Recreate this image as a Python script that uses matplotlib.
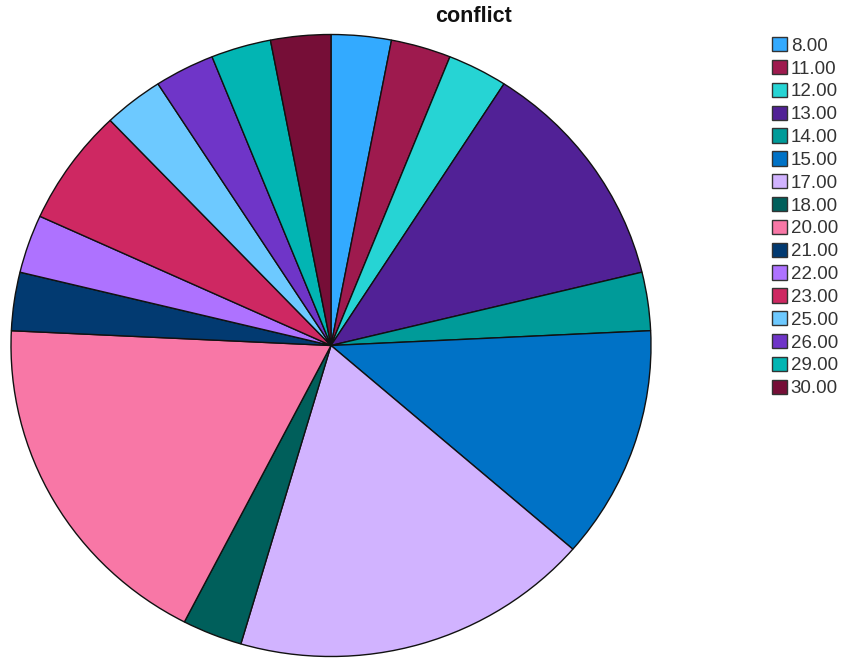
import matplotlib
matplotlib.use("Agg")
import matplotlib.pyplot as plt
from matplotlib.patches import Patch

categories = ["8.00", "11.00", "12.00", "13.00", "14.00", "15.00", "17.00", "18.00",
              "20.00", "21.00", "22.00", "23.00", "25.00", "26.00", "29.00", "30.00"]
counts = [1, 1, 1, 4, 1, 4, 6, 1, 6, 1, 1, 2, 1, 1, 1, 1]
colors = ["#33AAFF", "#9E1A4E", "#26D4D4", "#512196", "#009B99", "#0072C6",
          "#D1B3FF", "#005F5B", "#F877A6", "#023A71", "#AE72FF", "#CE2862",
          "#6DC9FF", "#6F35C8", "#02B5B3", "#760E37"]

plt.rcParams['font.family'] = ['Liberation Sans', 'DejaVu Sans']

W, H = 843, 663
fig = plt.figure(figsize=(W / 100, H / 100), dpi=100)

# pie axes: ellipse center (331,345.5), rx 320, ry 311
cx, cy, rx, ry = 331, 345.5, 320, 311
ax = fig.add_axes([(cx - rx) / W, (H - (cy + ry)) / H, 2 * rx / W, 2 * ry / H])
ax.pie(counts, colors=colors, startangle=90, counterclock=False,
       wedgeprops=dict(edgecolor="#111111", linewidth=1.0))
ax.set_aspect('auto')
ax.set_xlim(-1, 1)
ax.set_ylim(-1, 1)
ax.axis('off')

fig.text(474 / W, 1 - 16 / H, "conflict", ha='center', va='center',
         fontweight='bold', fontsize=15.5, color="#111111")

handles = [Patch(facecolor=c, edgecolor="#333333", linewidth=1.0) for c in colors]
leg = fig.legend(handles, categories, loc='upper left',
                 bbox_to_anchor=(772 / W, 1 - 37 / H), frameon=False,
                 handlelength=0.8, handleheight=0.8, handletextpad=0.2,
                 labelspacing=0.275, fontsize=13.5, borderaxespad=0, borderpad=0)
for t in leg.get_texts():
    t.set_color("#333333")

fig.savefig("out.png", dpi=100)
